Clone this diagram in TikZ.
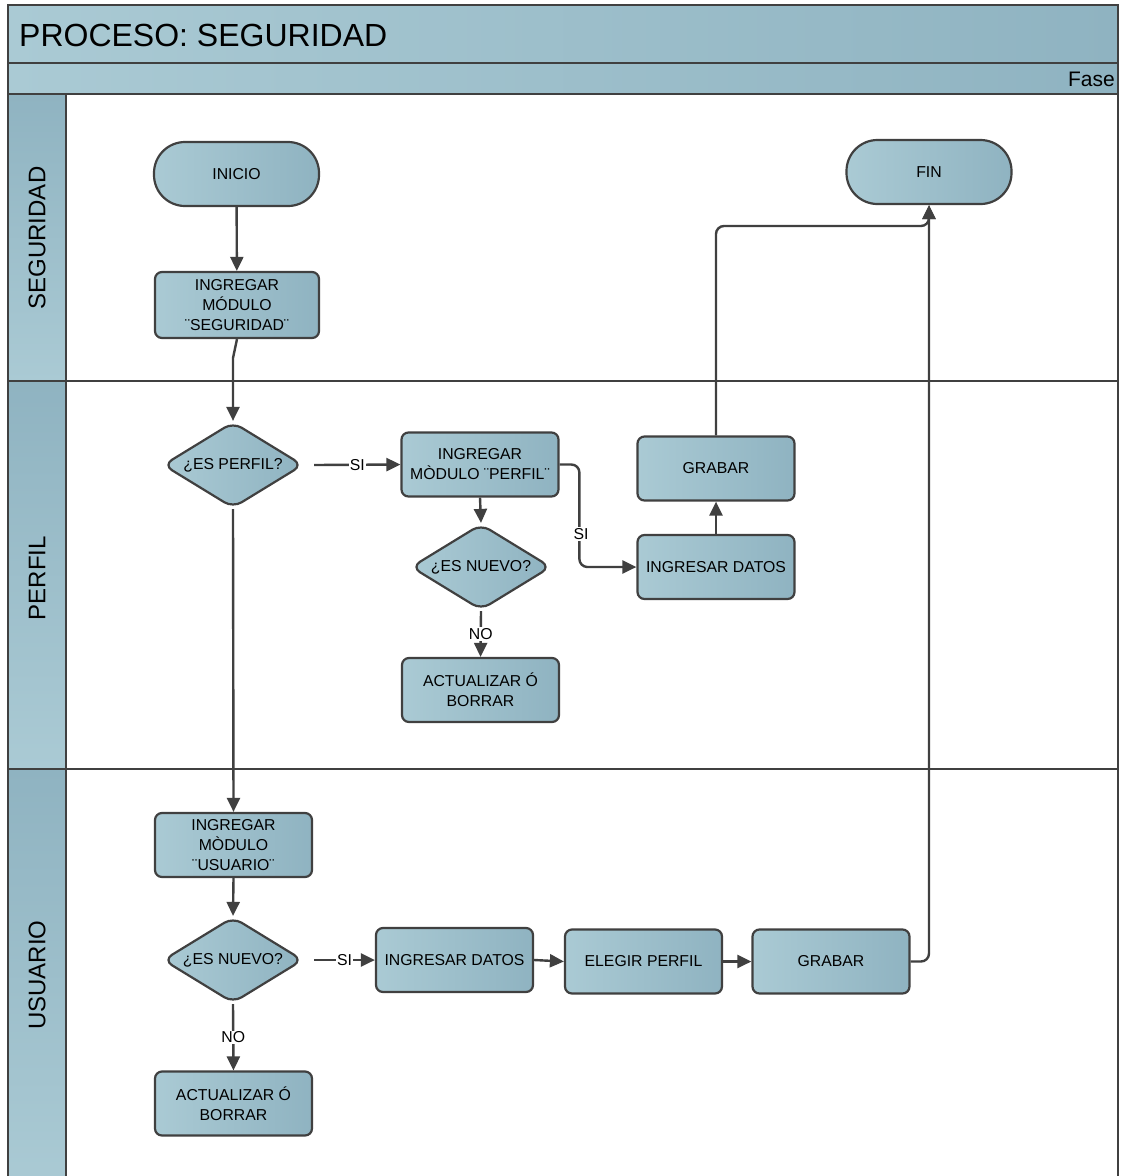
\documentclass[tikz,border=0pt]{standalone}
\usepackage{fontspec}
\setmainfont{Liberation Sans}
\usetikzlibrary{arrows.meta,shapes.geometric,calc}
\definecolor{lightb}{HTML}{AACAD4}
\definecolor{darkb}{HTML}{8FB3C1}
\definecolor{frame}{HTML}{404040}
\newcommand{\nfont}{\fontsize{15.8}{20}\selectfont}
\begin{document}
\begin{tikzpicture}[x=1pt,y=-1pt,
  band/.style={draw=frame, line width=2.2pt, left color=lightb, right color=darkb},
  lanehead/.style={draw=frame, line width=2.2pt, top color=darkb, bottom color=lightb},
  proc/.style={draw=frame, line width=2.2pt, rounded corners=7pt, left color=lightb, right color=darkb,
    align=center, font=\nfont, inner sep=1pt, minimum width=157pt, minimum height=64pt},
  term/.style={proc, rounded corners=31pt, minimum width=165pt},
  dec/.style={diamond, shape aspect=1.64, draw=frame, line width=2.2pt, rounded corners=10pt, left color=lightb, right color=darkb,
    font=\nfont, inner sep=0pt, minimum width=140pt, minimum height=86pt},
  arr/.style={draw=frame, line width=2.4pt, -{Triangle[length=14pt,width=13pt]}},
  lbl/.style={fill=white, font=\nfont, inner sep=1pt},
  lanelbl/.style={rotate=90, font=\fontsize{24}{27}\selectfont}
]
\useasboundingbox (0,0) rectangle (1126,1176);
\fill[white] (0,0) rectangle (1126,1176);
% frame
\path[band] (8,5) rectangle (1118,63);
\path[band] (8,63) rectangle (1118,94);
\path[lanehead] (8,94) rectangle (66,381);
\path[lanehead] (8,381) rectangle (66,769);
\path[lanehead] (8,769) rectangle (66,1185);
\draw[frame, line width=2.2pt] (66,381) -- (1118,381);
\draw[frame, line width=2.2pt] (66,769) -- (1118,769);
\draw[frame, line width=2.2pt] (1118,94) -- (1118,1185);
\node[anchor=west, font=\fontsize{32}{35}\selectfont, inner sep=0pt] (title) at (19,35) {PROCESO: SEGURIDAD};
\node[anchor=east, font=\fontsize{21}{24}\selectfont, inner sep=0pt] (fase) at (1115,79) {Fase};
\node[lanelbl] (lseg) at (37,238) {SEGURIDAD};
\node[lanelbl] (lper) at (37,578) {PERFIL};
\node[lanelbl] (lusu) at (37,975) {USUARIO};
% nodes
\node[term] (inicio) at (236.5,174) {INICIO};
\node[term] (fin) at (929,172) {FIN};
\node[proc, minimum width=164pt, minimum height=66pt] (segmod) at (237,305) {INGREGAR\\MÓDULO\\¨SEGURIDAD¨};
\node[dec] (esperfil) at (233,465) {¿ES PERFIL?};
\node[proc] (pmod) at (480,464.5) {INGREGAR\\MÒDULO ¨PERFIL¨};
\node[dec] (pnuevo) at (481,567) {¿ES NUEVO?};
\node[proc] (pact) at (480.5,690) {ACTUALIZAR Ó\\BORRAR};
\node[proc] (pdat) at (716,567) {INGRESAR DATOS};
\node[proc] (pgrab) at (716,468.5) {GRABAR};
\node[proc] (umod) at (233.5,845) {INGREGAR\\MÒDULO\\¨USUARIO¨};
\node[dec] (unuevo) at (233,960) {¿ES NUEVO?};
\node[proc] (uact) at (233.5,1103.5) {ACTUALIZAR Ó\\BORRAR};
\node[proc] (udat) at (454.5,960) {INGRESAR DATOS};
\node[proc] (uelg) at (643.5,961.5) {ELEGIR PERFIL};
\node[proc] (ugrab) at (831,961.5) {GRABAR};
% connectors
\coordinate (k1) at (233,358);
\coordinate (t1) at (929,226);
\draw[arr] (inicio) -- (segmod);
\draw[arr] (segmod.south) -- (k1) -- (esperfil.north);
\draw[arr] ([xshift=10pt]esperfil.east) -- node[lbl]{SI} (pmod.west);
\draw[arr] (pmod.south) -- (pnuevo.north);
\draw[arr] (pnuevo.south) -- node[lbl]{NO} (pact.north);
\draw[arr, rounded corners=8pt] (pmod.east) -| ([xshift=-57pt]pdat.west) -- (pdat.west);
\node[lbl] (si2) at (581,534) {SI};
\draw[arr] (pdat.north) -- (pgrab.south);
\draw[arr, rounded corners=8pt] (pgrab.north) |- (t1) -- (fin.south);
\draw[arr, rounded corners=8pt] (ugrab.east) -| (fin.south);
\draw[arr] (esperfil.south) -- (umod.north);
\draw[arr] (umod.south) -- (unuevo.north);
\draw[arr] ([xshift=10pt]unuevo.east) -- node[lbl]{SI} (udat.west);
\draw[arr] (unuevo.south) -- node[lbl]{NO} (uact.north);
\draw[arr] (udat.east) -- (uelg.west);
\draw[arr] (uelg.east) -- (ugrab.west);
\end{tikzpicture}
\end{document}
